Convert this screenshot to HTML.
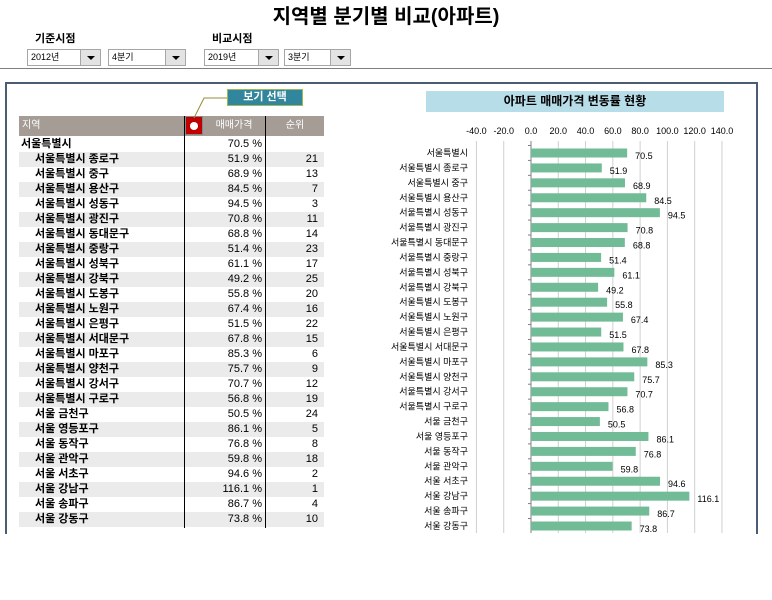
<!DOCTYPE html>
<html><head><meta charset="utf-8"><style>
*{margin:0;padding:0;box-sizing:border-box}
body{width:772px;height:600px;background:#fff;position:relative;overflow:hidden;font-family:"Liberation Sans","Noto Sans CJK KR","NanumGothic",sans-serif;color:#000}
.a{position:absolute}
.dd{position:absolute;top:49px;height:17px;border:1px solid #a6a6a6;background:#fff;font-size:9px;line-height:15px;padding-left:3px}
.dd b{position:absolute;right:0;top:0;width:20px;height:15px;background:#e3e3e3;border-left:1px solid #a6a6a6}
.dd b:after{content:"";position:absolute;left:6px;top:6px;border-left:4px solid transparent;border-right:4px solid transparent;border-top:4px solid #000}
.row{position:absolute;left:19px;width:305px;height:15px;font-size:11px;line-height:15px}
.row .n{position:absolute;left:0;font-weight:bold}
.row .p{position:absolute;right:62px}
.row .r{position:absolute;right:6px}
</style></head><body>
<div class="a" style="left:0;width:772px;top:0px;text-align:center;font-size:20px;font-weight:bold">지역별 분기별 비교(아파트)</div>
<div class="a" style="left:35px;top:30px;font-size:11px;font-weight:bold">기준시점</div>
<div class="a" style="left:212px;top:30px;font-size:11px;font-weight:bold">비교시점</div>
<div class="dd" style="left:27px;width:74px">2012년<b></b></div>
<div class="dd" style="left:108px;width:78px">4분기<b></b></div>
<div class="dd" style="left:204px;width:75px">2019년<b></b></div>
<div class="dd" style="left:284px;width:67px">3분기<b></b></div>
<div class="a" style="left:0;top:68px;width:772px;height:1px;background:#7f7f7f"></div>
<div class="a" style="left:5px;top:82px;width:753px;height:452px;border:2px solid #4a5d73;border-bottom:none"></div>
<div class="a" style="left:19px;top:116px;width:305px;height:20px;background:#a59d95"></div>
<div class="a" style="left:22px;top:116px;font-size:10px;line-height:20px;color:#fff">지역</div>
<div class="a" style="left:203px;top:116px;width:62px;text-align:center;font-size:10px;line-height:20px;color:#fff">매매가격</div>
<div class="a" style="left:266px;top:116px;width:58px;text-align:center;font-size:10px;line-height:20px;color:#fff">순위</div>
<div class="a" style="left:185px;top:116px;width:18px;height:19px;background:#c00000;border:1px solid #888"><div class="a" style="left:4px;top:5px;width:8px;height:8px;border-radius:50%;background:#fff"></div></div>
<div class="a" style="left:227px;top:89px;width:76px;height:17px;background:#31859c;border:1px solid #9bbb59;color:#fff;font-size:11px;font-weight:bold;text-align:center;line-height:15px">보기 선택</div>
<svg class="a" style="left:0;top:0" width="772" height="600"><polyline points="194,118 204,98 227,98" fill="none" stroke="#9a8a3a" stroke-width="1"/></svg>
<div id="rows"></div>
<div class="a" style="left:184px;top:116px;width:1px;height:412px;background:#000"></div>
<div class="a" style="left:265px;top:116px;width:1px;height:412px;background:#000"></div>
<div class="a" style="left:426px;top:91px;width:298px;height:21px;background:#b7dde8;text-align:center;font-size:12px;font-weight:bold;line-height:21px">아파트 매매가격 변동률 현황</div>
<svg id="ch" class="a" style="left:0;top:0" width="772" height="600"></svg>
<script>
var d=[["서울특별시",70.5,""],["서울특별시 종로구",51.9,21],["서울특별시 중구",68.9,13],["서울특별시 용산구",84.5,7],["서울특별시 성동구",94.5,3],["서울특별시 광진구",70.8,11],["서울특별시 동대문구",68.8,14],["서울특별시 중랑구",51.4,23],["서울특별시 성북구",61.1,17],["서울특별시 강북구",49.2,25],["서울특별시 도봉구",55.8,20],["서울특별시 노원구",67.4,16],["서울특별시 은평구",51.5,22],["서울특별시 서대문구",67.8,15],["서울특별시 마포구",85.3,6],["서울특별시 양천구",75.7,9],["서울특별시 강서구",70.7,12],["서울특별시 구로구",56.8,19],["서울 금천구",50.5,24],["서울 영등포구",86.1,5],["서울 동작구",76.8,8],["서울 관악구",59.8,18],["서울 서초구",94.6,2],["서울 강남구",116.1,1],["서울 송파구",86.7,4],["서울 강동구",73.8,10]];
var h="";
d.forEach(function(r,i){var y=137+i*15;h+='<div class="row" style="top:'+y+'px;'+(i%2?'background:#ebebeb':'')+'"><span class="n" style="left:'+(i?16:2)+'px">'+r[0]+'</span><span class="p">'+r[1].toFixed(1)+' %</span><span class="r">'+r[2]+'</span></div>';});
document.getElementById("rows").innerHTML=h;
var s="",x0=531,k=1.364;
for(var v=-40;v<=140;v+=20){var x=x0+v*k;if(v!=0)s+='<line x1="'+x+'" y1="141" x2="'+x+'" y2="533" stroke="#d0d0d0"/>';s+='<text x="'+x+'" y="134" font-size="9" text-anchor="middle">'+v.toFixed(1)+'</text>';}
s+='<line x1="'+x0+'" y1="141" x2="'+x0+'" y2="533" stroke="#808080"/>';
d.forEach(function(r,i){var c=153+i*14.92;var w=r[1]*k;s+='<line x1="'+(x0-3)+'" y1="'+(c-7.5)+'" x2="'+x0+'" y2="'+(c-7.5)+'" stroke="#808080"/>';s+='<rect x="'+x0+'" y="'+(c-4.5)+'" width="'+w+'" height="9" fill="#72bb97"/>';s+='<text x="468" y="'+(c+3)+'" font-size="9" text-anchor="end">'+r[0]+'</text>';s+='<text x="'+(x0+w+8)+'" y="'+(c+6)+'" font-size="9">'+r[1].toFixed(1)+'</text>';});
document.getElementById("ch").innerHTML=s;
</script>
</body></html>
